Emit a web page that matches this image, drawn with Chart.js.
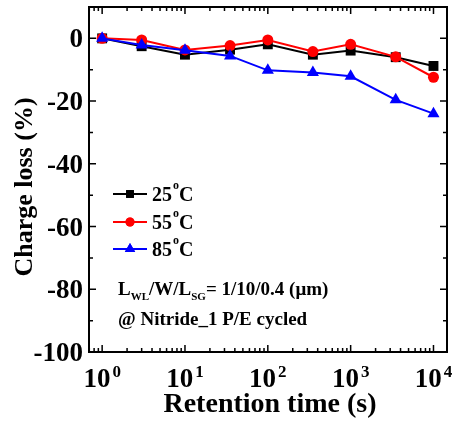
<!DOCTYPE html>
<html>
<head>
<meta charset="utf-8">
<script src="https://cdn.jsdelivr.net/npm/chart.js@4/dist/chart.umd.min.js"></script>
<style>
  html, body { margin: 0; padding: 0; background: #fff; }
  #wrap { width: 454px; height: 421px; }
</style>
</head>
<body>
<div id="wrap"><canvas id="lossChart" width="454" height="421"></canvas></div>
<script>
// 保存時間 (s)
const retentionTime = [1, 3, 10, 35, 100, 350, 1000, 3500, 10000];
// 各溫度的電荷損失 (%)
const loss25 = [0, -2.5, -5.2, -3.6, -1.9, -5.2, -3.9, -6.0, -8.8];
const loss55 = [0, -0.5, -3.7, -2.3, -0.5, -4.2, -1.9, -5.9, -12.4];
const loss85 = [0, -2.1, -3.8, -5.6, -10.2, -10.9, -12.1, -19.6, -24.0];
const tempLabels = ['25', '55', '85'];
const decades = [0, 1, 2, 3, 4];
const yMajorTicks = [0, -20, -40, -60, -80, -100];

const SERIF = '"Liberation Serif", "Times New Roman", serif';
const seriesStyle = [
    { color: '#000000', point: 'rect', radius: 7, legendRadius: 5.5 },
    { color: '#ff0000', point: 'circle', radius: 5.5, legendRadius: 4.5 },
    { color: '#0000ff', point: 'triangle', radius: 7, legendRadius: 6 }
];

// 框線與內向刻度
const framePlugin = {
    id: 'frame',
    afterDatasetsDraw(chart) {
        const { ctx, chartArea: a, scales } = chart;
        ctx.save();
        ctx.strokeStyle = '#000';
        ctx.lineWidth = 1.5;
        ctx.beginPath();
        // y 軸刻度：主刻度每 20，次刻度每 10
        for (let v = -100; v <= 10; v += 10) {
            const y = scales.y.getPixelForValue(v);
            const len = v % 20 === 0 ? 7 : 4;
            ctx.moveTo(a.left, y); ctx.lineTo(a.left + len, y);
            ctx.moveTo(a.right, y); ctx.lineTo(a.right - len, y);
        }
        // x 軸刻度：十進位主刻度，2~9 次刻度
        for (let d = -1; d <= 4; d++) {
            for (let m = 1; m <= 9; m++) {
                const t = m * Math.pow(10, d);
                if (t < scales.x.min || t > scales.x.max) continue;
                const x = scales.x.getPixelForValue(t);
                const len = m === 1 ? 7 : 4;
                ctx.moveTo(x, a.bottom); ctx.lineTo(x, a.bottom - len);
                ctx.moveTo(x, a.top); ctx.lineTo(x, a.top + len);
            }
        }
        ctx.stroke();
        ctx.lineWidth = 2;
        ctx.strokeRect(a.left, a.top, a.right - a.left, a.bottom - a.top);
        ctx.restore();
    }
};

// 座標標籤、軸標題、圖例與註解
const textPlugin = {
    id: 'texts',
    afterDraw(chart) {
        const { ctx, chartArea: a, scales } = chart;
        ctx.save();
        ctx.fillStyle = '#000';
        ctx.textBaseline = 'alphabetic';

        // y 軸數字
        ctx.textAlign = 'right';
        ctx.font = 'bold 27px ' + SERIF;
        yMajorTicks.forEach(v => {
            const y = scales.y.getPixelForValue(v);
            ctx.fillText(String(v), a.left - 6, y + 9);
        });

        // x 軸 10^n
        ctx.textAlign = 'left';
        decades.forEach(d => {
            const x = scales.x.getPixelForValue(Math.pow(10, d));
            ctx.font = 'bold 27px ' + SERIF;
            const wBase = ctx.measureText('10').width;
            ctx.font = 'bold 17px ' + SERIF;
            const wSup = ctx.measureText(String(d)).width;
            const x0 = x - (wBase + 2 + wSup) / 2;
            ctx.font = 'bold 27px ' + SERIF;
            ctx.fillText('10', x0, 387);
            ctx.font = 'bold 17px ' + SERIF;
            ctx.fillText(String(d), x0 + wBase + 2, 377);
        });

        ctx.font = 'bold 28px ' + SERIF;
        ctx.textAlign = 'center';
        ctx.fillText('Retention time (s)', (a.left + a.right) / 2 + 2, 412);

        ctx.save();
        ctx.translate(32, 187);
        ctx.rotate(-Math.PI / 2);
        ctx.font = 'bold 26px ' + SERIF;
        ctx.fillText('Charge loss (%)', 0, 0);
        ctx.restore();

        // 圖例
        ctx.textAlign = 'left';
        const rows = [194, 222, 249];
        chart.data.datasets.forEach((ds, i) => {
            const s = seriesStyle[i];
            const y = rows[i];
            ctx.strokeStyle = s.color;
            ctx.lineWidth = 2;
            ctx.beginPath();
            ctx.moveTo(113, y); ctx.lineTo(147, y);
            ctx.stroke();
            ctx.fillStyle = s.color;
            Chart.helpers.drawPoint(ctx, { pointStyle: s.point, radius: s.legendRadius, rotation: 0, borderWidth: 0 }, 130, y);
            ctx.fill();
            ctx.fillStyle = '#000';
            ctx.font = 'bold 20px ' + SERIF;
            let x = 152;
            ctx.fillText(tempLabels[i], x, y + 7);
            x += ctx.measureText(tempLabels[i]).width + 1;
            ctx.font = 'bold 12px ' + SERIF;
            ctx.fillText('o', x, y - 5);
            x += ctx.measureText('o').width;
            ctx.font = 'bold 20px ' + SERIF;
            ctx.fillText('C', x, y + 7);
        });

        // 元件尺寸註解
        const parts = [
            ['L', false], ['WL', true], ['/W/L', false], ['SG', true], ['= 1/10/0.4 (\u03bcm)', false]
        ];
        let x = 118;
        parts.forEach(([t, sub]) => {
            ctx.font = sub ? 'bold 11px ' + SERIF : 'bold 19px ' + SERIF;
            ctx.fillText(t, x, sub ? 300 : 295);
            x += ctx.measureText(t).width;
        });
        ctx.font = 'bold 19px ' + SERIF;
        ctx.fillText('@ Nitride_1 P/E cycled', 118, 325);
        ctx.restore();
    }
};

function makeDataset(label, values, i) {
    const s = seriesStyle[i];
    return {
        label: label + '°C',
        data: retentionTime.map((t, k) => ({ x: t, y: values[k] })),
        borderColor: s.color,
        backgroundColor: s.color,
        borderWidth: 2,
        pointStyle: s.point,
        pointRadius: s.radius,
        pointBorderWidth: 0,
        tension: 0,
        order: 2 - i
    };
}

new Chart(document.getElementById('lossChart'), {
    type: 'line',
    data: {
        datasets: [
            makeDataset(tempLabels[0], loss25, 0),
            makeDataset(tempLabels[1], loss55, 1),
            makeDataset(tempLabels[2], loss85, 2)
        ]
    },
    options: {
        responsive: false,
        animation: false,
        layout: { padding: { top: 7, right: 5, left: 0, bottom: 0 } },
        plugins: { legend: { display: false }, tooltip: { enabled: false } },
        scales: {
            x: {
                type: 'logarithmic',
                min: 0.694,
                max: 14560,
                grid: { display: false },
                border: { display: false },
                ticks: { display: false },
                afterFit(scale) { scale.height = 69; }
            },
            y: {
                min: -100,
                max: 10,
                grid: { display: false },
                border: { display: false },
                ticks: { display: false },
                afterFit(scale) { scale.width = 89; }
            }
        }
    },
    plugins: [framePlugin, textPlugin]
});
</script>
</body>
</html>
